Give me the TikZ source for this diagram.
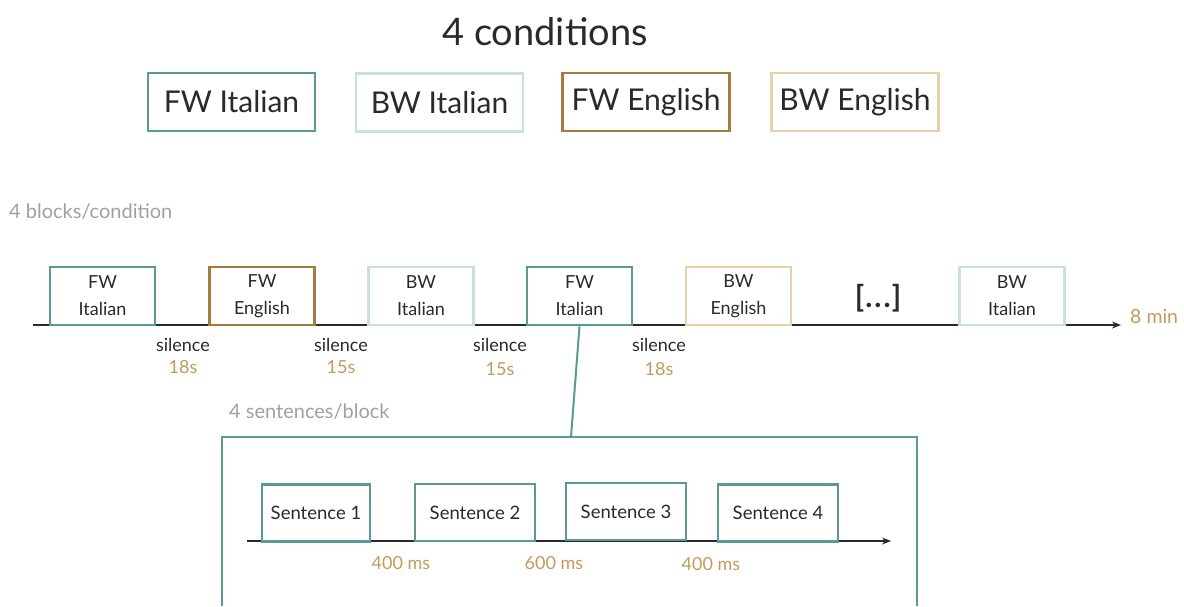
\documentclass[tikz,border=0pt]{standalone}
\usepackage{fontspec}
\setmainfont{Lato}
\usetikzlibrary{arrows.meta}
\definecolor{dteal}{HTML}{5B9997}
\definecolor{lteal}{HTML}{C8E0DE}
\definecolor{dgold}{HTML}{A67C3B}
\definecolor{ltan}{HTML}{E6D1A8}
\definecolor{numgold}{HTML}{C49A5C}
\definecolor{txt}{HTML}{2A2A2A}
\definecolor{greytxt}{HTML}{A0A0A0}
\tikzset{
  condbox/.style={draw, line width=2.8pt, fill=white, minimum width=167pt, minimum height=58pt, inner sep=0pt, text=txt, font=\fontsize{30}{34}\selectfont},
  tlbox/.style={draw, line width=2.6pt, fill=white, minimum width=105pt, minimum height=58pt, inner sep=0pt, text=txt, align=center, font=\fontsize{18}{27}\selectfont},
  sentbox/.style={draw=dteal, line width=2.4pt, fill=white, minimum height=57pt, inner sep=0pt, text=txt, font=\fontsize{18.5}{22}\selectfont},
  axis/.style={draw=txt, line width=1.4pt, -{Stealth[length=9pt,width=7pt]}},
  silence/.style={text=txt, font=\fontsize{18}{22}\selectfont, inner sep=0pt},
  dur/.style={text=numgold, font=\fontsize{18}{22}\selectfont, inner sep=0pt},
  heading/.style={text=greytxt, font=\fontsize{20}{24}\selectfont, anchor=west, inner sep=0pt},
}
\begin{document}
\begin{tikzpicture}[x=1pt,y=-1pt]
\useasboundingbox (0,0) rectangle (1184,606);
% title
\node[text=txt, font=\fontsize{38}{42}\selectfont] (title) at (545,32) {4 conditions};
% conditions
\node[condbox, draw=dteal] (c1) at (231.5,102) {FW Italian};
\node[condbox, draw=lteal] (c2) at (439.5,102.5) {BW Italian};
\node[condbox, draw=dgold] (c3) at (646,102) {FW English};
\node[condbox, draw=ltan] (c4) at (855,102) {BW English};
% blocks heading
\node[heading] (bh) at (9,212) {4 blocks/condition};
% timeline
\coordinate (ts) at (33,325);
\coordinate (te) at (1121,325);
\draw[axis] (ts) -- (te);
\node[tlbox, draw=dteal] (t1) at (102.5,296) {FW\\Italian};
\node[tlbox, draw=dgold] (t2) at (262,296) {FW\\English};
\node[tlbox, draw=lteal] (t3) at (421,296) {BW\\Italian};
\node[tlbox, draw=dteal] (t4) at (579.5,296) {FW\\Italian};
\node[tlbox, draw=ltan] (t5) at (738.5,296) {BW\\English};
\node[text=txt, font=\fontsize{30}{34}\selectfont\bfseries] (dots) at (878,298) {[\kern1pt.\kern2pt.\kern2pt.\kern1pt]};
\node[tlbox, draw=lteal] (t6) at (1012,296) {BW\\Italian};
\node[text=numgold, font=\fontsize{19.5}{22}\selectfont, anchor=west, inner sep=0pt] (min) at (1130,316) {8 min};
% silences
\node[silence] (s1) at (183,345) {silence};
\node[dur] (d1) at (183,367) {18s};
\node[silence] (s2) at (341,345) {silence};
\node[dur] (d2) at (341,367) {15s};
\node[silence] (s3) at (500,345) {silence};
\node[dur] (d3) at (500,369) {15s};
\node[silence] (s4) at (659,345) {silence};
\node[dur] (d4) at (659,369) {18s};
% zoomed block
\node[heading] (sh) at (229,412) {4 sentences/block};
\coordinate (bl) at (222,606);
\coordinate (btl) at (222,437);
\coordinate (btr) at (917,437);
\coordinate (br) at (917,606);
\coordinate (btop) at (571,437);
\draw[dteal, line width=2pt] (bl) -- (btl) -- (btr) -- (br);
\draw[dteal, line width=2pt] (t4.south) -- (btop);
% sentence timeline
\coordinate (ss) at (247,541);
\coordinate (se) at (891,541);
\draw[axis, line width=1.2pt] (ss) -- (se);
\node[sentbox, minimum width=108pt] (st1) at (316,513) {Sentence 1};
\node[sentbox, minimum width=120pt] (st2) at (475,512.5) {Sentence 2};
\node[sentbox, minimum width=120pt] (st3) at (626,511.5) {Sentence 3};
\node[sentbox, minimum width=120pt] (st4) at (778,513) {Sentence 4};
\node[dur] (m1) at (401,563) {400 ms};
\node[dur] (m2) at (554,563) {600 ms};
\node[dur] (m3) at (711,564) {400 ms};
\end{tikzpicture}
\end{document}
